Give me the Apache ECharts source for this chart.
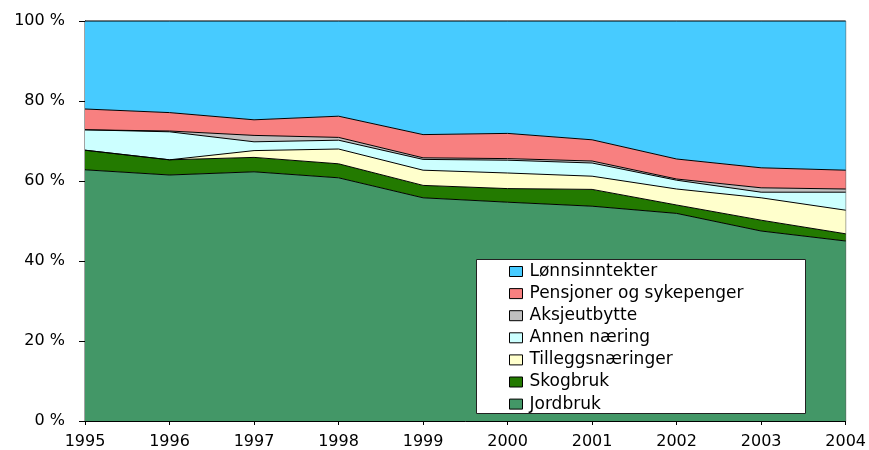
<!DOCTYPE html>
<html>
<head>
<meta charset="utf-8">
<script src="https://cdn.jsdelivr.net/npm/echarts@6/dist/echarts.min.js"></script>
<style>html,body{margin:0;padding:0;background:#fff}#c{width:869px;height:450px}</style>
</head>
<body>
<div id="c"></div>
<script>
var years = ['1995','1996','1997','1998','1999','2000','2001','2002','2003','2004'];
var yTickLabels = ['0 %','20 %','40 %','60 %','80 %','100 %'];
var jordbruk      = [62.8, 61.5, 62.3, 60.8, 55.8, 54.7, 53.7, 51.9, 47.5, 45.0];
var skogbruk      = [4.9, 3.8, 3.6, 3.5, 3.1, 3.4, 4.2, 2.1, 2.7, 1.8];
var tillegg       = [0.0, 0.0, 1.7, 3.7, 3.8, 3.9, 3.3, 4.0, 5.6, 5.9];
var annen         = [5.1, 7.0, 2.2, 2.2, 2.7, 3.2, 3.3, 2.2, 1.4, 4.5];
var aksje         = [0.0, 0.2, 1.6, 0.7, 0.4, 0.4, 0.5, 0.3, 1.1, 0.8];
var pensjon       = [5.2, 4.6, 3.9, 5.3, 5.8, 6.3, 5.3, 5.0, 5.0, 4.7];
var lonn          = [22.0, 22.9, 24.7, 23.8, 28.4, 28.1, 29.7, 34.5, 36.7, 37.3];
var seriesNames = ['Jordbruk','Skogbruk','Tilleggsnæringer','Annen næring','Aksjeutbytte','Pensjoner og sykepenger','Lønnsinntekter'];
var seriesData = [jordbruk, skogbruk, tillegg, annen, aksje, pensjon, lonn];
var seriesColors = ['#439767','#237A00','#FFFFCC','#CCFFFF','#C0C0C0','#F88080','#47CBFF'];

var FONT = 'DejaVu Sans';
var series = seriesNames.map(function(n, i){
  return {
    name: n, type: 'line', stack: 'total', symbol: 'none', smooth: false,
    data: seriesData[i],
    color: seriesColors[i],
    itemStyle: {color: seriesColors[i], borderColor: '#000', borderWidth: 1},
    lineStyle: {color: '#000', width: 1},
    areaStyle: {color: seriesColors[i], opacity: 1},
    emphasis: {disabled: true},
    silent: true
  };
});

var chart = echarts.init(document.getElementById('c'), null, {renderer: 'canvas'});
chart.setOption({
  animation: false,
  backgroundColor: '#fff',
  textStyle: {fontFamily: FONT},
  grid: {left: 85, right: 23, top: 21, bottom: 28, show: true, borderColor: '#444', borderWidth: 1, backgroundColor: 'transparent'},
  xAxis: {
    type: 'category', data: years, boundaryGap: false,
    axisLine: {lineStyle: {color: '#000', width: 1}},
    axisTick: {show: true, length: 4, alignWithLabel: true, lineStyle: {color: '#000'}},
    axisLabel: {color: '#000', fontSize: 16, fontFamily: FONT, margin: 13, interval: 0},
    splitLine: {show: false}
  },
  yAxis: {
    type: 'value', min: 0, max: 100, interval: 20,
    axisLine: {show: true, lineStyle: {color: '#000', width: 1}},
    axisTick: {show: true, length: 6, lineStyle: {color: '#000'}},
    axisLabel: {color: '#000', fontSize: 16, fontFamily: FONT, margin: 20,
      formatter: function(v){ return yTickLabels[Math.round(v/20)]; }},
    splitLine: {show: false}
  },
  legend: {
    data: seriesNames.slice().reverse(),
    orient: 'vertical', left: 509, top: 263, padding: 0,
    itemWidth: 13, itemHeight: 10, itemGap: 5.1,
    icon: 'rect',
    itemStyle: {borderColor: '#000', borderWidth: 1},
    textStyle: {color: '#000', fontSize: 17, fontFamily: FONT, lineHeight: 16, padding: [0, 0, 0, 2]},
    selectedMode: false,
    z: 110
  },
  graphic: [{
    type: 'rect', left: 476, top: 259, z: 100,
    shape: {width: 329, height: 154},
    style: {fill: '#fff', stroke: '#222', lineWidth: 1}
  }],
  series: series
});
</script>
</body>
</html>
